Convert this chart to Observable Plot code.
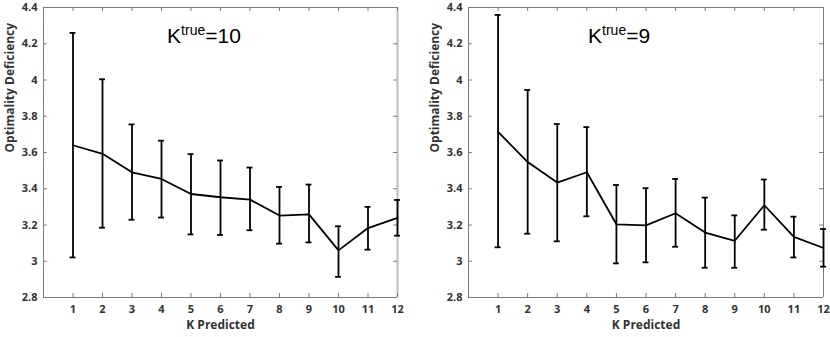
<!DOCTYPE html>
<html>
<head>
<meta charset="utf-8">
<script src="https://cdn.jsdelivr.net/npm/d3@7"></script>
<script src="https://cdn.jsdelivr.net/npm/@observablehq/plot@0.6"></script>
<style>
  html, body { margin: 0; padding: 0; background: #fff; }
  #wrap { display: flex; width: 830px; height: 337px; }
</style>
</head>
<body>
<div id="wrap"></div>
<script>
// ---- data ----
const kPredicted = [1, 2, 3, 4, 5, 6, 7, 8, 9, 10, 11, 12];

// Panel A: K_true = 10
const meanA  = [3.640, 3.593, 3.491, 3.454, 3.371, 3.353, 3.340, 3.252, 3.259, 3.060, 3.183, 3.239];
const upperA = [4.260, 4.004, 3.755, 3.665, 3.591, 3.556, 3.517, 3.410, 3.423, 3.193, 3.300, 3.338];
const lowerA = [3.021, 3.185, 3.229, 3.241, 3.148, 3.145, 3.171, 3.097, 3.104, 2.914, 3.064, 3.141];

// Panel B: K_true = 9
const meanB  = [3.714, 3.547, 3.434, 3.491, 3.204, 3.198, 3.265, 3.158, 3.113, 3.309, 3.134, 3.073];
const upperB = [4.359, 3.945, 3.757, 3.740, 3.421, 3.403, 3.454, 3.351, 3.253, 3.451, 3.246, 3.178];
const lowerB = [3.077, 3.152, 3.110, 3.248, 2.988, 2.994, 3.080, 2.964, 2.964, 3.174, 3.021, 2.970];

const xTicks = [1, 2, 3, 4, 5, 6, 7, 8, 9, 10, 11, 12];
const yTicks = [2.8, 3.0, 3.2, 3.4, 3.6, 3.8, 4.0, 4.2, 4.4];
const yTickLabels = ["2.8", "3", "3.2", "3.4", "3.6", "3.8", "4", "4.2", "4.4"];

const titleA = {main: "K", sup: "true", rest: "=10"};
const titleB = {main: "K", sup: "true", rest: "=9"};
const xLabel = "K Predicted";
const yLabel = "Optimality Deficiency";

// ---- drawing ----
const axisColor = "#7a7a7a";
const textColor = "#333333";
const font = "'Open Sans', sans-serif";

function panel(mean, upper, lower, title, opts) {
  const rows = kPredicted.map((k, i) => ({k, mean: mean[i], hi: upper[i], lo: lower[i]}));
  const yMin = yTicks[0], yMax = yTicks[yTicks.length - 1];
  const xMin = 0, xMax = kPredicted[kPredicted.length - 1];
  const svg = Plot.plot({
    width: 415,
    height: 337,
    marginLeft: opts.marginLeft,
    marginRight: opts.marginRight,
    marginTop: 7,
    marginBottom: 40,
    style: {fontFamily: font, background: "#fff", overflow: "visible"},
    x: {domain: [xMin, xMax]},
    y: {domain: [yMin, yMax]},
    marks: [
      // box
      Plot.ruleX([xMin], {stroke: axisColor, strokeWidth: 1}),
      Plot.ruleY([yMin], {stroke: axisColor, strokeWidth: 1}),
      Plot.ruleY([yMax], {stroke: axisColor, strokeWidth: 1}),
      Plot.ruleX([xMax], {stroke: opts.rightStroke, strokeWidth: opts.rightWidth}),
      // inward ticks
      Plot.ruleY(yTicks, {x1: xMin, x2: xMin + 0.13, stroke: axisColor}),
      Plot.ruleY(yTicks, {x1: xMax - 0.13, x2: xMax, stroke: axisColor}),
      Plot.ruleX(xTicks, {y1: yMin, y2: yMin + 0.022, stroke: axisColor}),
      Plot.ruleX(xTicks, {y1: yMax - 0.022, y2: yMax, stroke: axisColor}),
      // tick labels
      Plot.axisX({ticks: xTicks, tickSize: 0, tickPadding: 8, label: null,
        fontSize: 11, fontWeight: "bold", fill: textColor, tickFormat: d => String(d)}),
      Plot.axisY({ticks: yTicks, tickSize: 0, tickPadding: 6, label: null,
        fontSize: 11, fontWeight: "bold", fill: textColor,
        tickFormat: d => yTickLabels[yTicks.findIndex(t => Math.abs(t - d) < 1e-9)]}),
      // axis labels
      Plot.text([xLabel], {frameAnchor: "bottom", dy: 31, fontSize: 12, fontWeight: "bold", fill: textColor}),
      Plot.text([yLabel], {frameAnchor: "left", dx: -33, rotate: -90, fontSize: 12, fontWeight: "bold", fill: textColor}),
      // error bars
      Plot.ruleX(rows, {x: "k", y1: "lo", y2: "hi", stroke: "#000", strokeWidth: 1.8}),
      Plot.ruleY(rows, {y: "hi", x1: d => d.k - 0.1, x2: d => d.k + 0.1, stroke: "#000", strokeWidth: 1.8}),
      Plot.ruleY(rows, {y: "lo", x1: d => d.k - 0.1, x2: d => d.k + 0.1, stroke: "#000", strokeWidth: 1.8}),
      // mean line
      Plot.line(rows, {x: "k", y: "mean", stroke: "#000", strokeWidth: 1.8}),
      // title
      Plot.text([title.main + title.sup + title.rest], {x: [opts.titleX], y: [4.24], text: d => d,
        fontSize: 21, fill: "#000", className: "ptitle"})
    ]
  });
  // rebuild title with superscript
  d3.select(svg).selectAll(".ptitle text").each(function () {
    const t = d3.select(this);
    t.text(null).style("font-family", "'Liberation Sans', Arial, sans-serif");
    t.append("tspan").text(title.main);
    t.append("tspan").attr("font-size", 14).attr("dy", -8).text(title.sup);
    t.append("tspan").attr("font-size", 21).attr("dy", 8).text(title.rest);
  });
  return svg;
}

const wrap = document.getElementById("wrap");
wrap.appendChild(panel(meanA, upperA, lowerA, titleA,
  {marginLeft: 43, marginRight: 18, rightStroke: "#bdbdbd", rightWidth: 2, titleX: 5.44}));
wrap.appendChild(panel(meanB, upperB, lowerB, titleB,
  {marginLeft: 53, marginRight: 7, rightStroke: axisColor, rightWidth: 1, titleX: 5.09}));
</script>
</body>
</html>
